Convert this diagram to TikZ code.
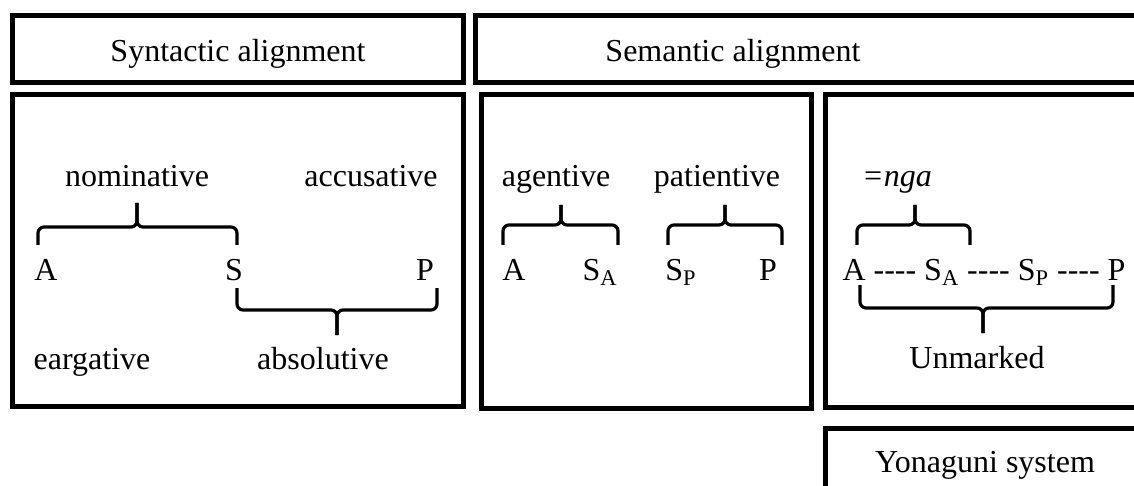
\documentclass[tikz,border=0pt]{standalone}
\usepackage{fontspec}
\setmainfont{Liberation Serif}
\usetikzlibrary{positioning}
\newcommand{\fourdash}{\mbox{-}\mbox{-}\mbox{-}\mbox{-}}
\tikzset{
	frame/.style={line width=2.5pt},
	brace/.style={line width=1.6pt, rounded corners=3pt},
	word/.style={inner sep=0pt, anchor=base, font=\fontsize{16}{19}\selectfont}
}

\begin{document}
\begin{tikzpicture}[x=0.5pt, y=-0.5pt]
	\useasboundingbox (0, 0) rectangle (1134, 486);
	\clip (0, 0) rectangle (1134, 486);

	% frames
	\draw[frame]	(12.5, 15.5) rectangle (463.5, 82.5)
			(12.5, 95) rectangle (463.5, 406.5)
			(475.5, 15.5) rectangle (1145, 82.5)
			(481.5, 95) rectangle (811.5, 408)
			(825.5, 95) rectangle (1145, 407.5)
			(825.5, 428.5) rectangle (1145, 500);

	% titles
	\node[word] (syntitle) at (238, 62) {Syntactic alignment};
	\node[word] (semtitle) at (733, 62) {Semantic alignment};
	\node[word] (yontitle) at (985, 472) {Yonaguni system};

	% syntactic
	\node[word] (nom) at (137, 187) {nominative};
	\node[word] (acc) at (371, 187) {accusative};
	\node[word] (synA) at (46, 280) {A};
	\node[word] (synS) at (234, 280) {S};
	\node[word] (synP) at (425, 280) {P};
	\node[word] (erg) at (92, 369) {eargative};
	\node[word] (abs) at (323, 369) {absolutive};

	% semantic
	\node[word] (agt) at (556, 187) {agentive};
	\node[word] (pat) at (717, 187) {patientive};
	\node[word] (semA) at (514, 280) {A};
	\node[word] (semSa) at (600, 280) {S\textsubscript{A}};
	\node[word] (semSp) at (681, 280) {S\textsubscript{P}};
	\node[word] (semP) at (768, 280) {P};

	% yonaguni
	\node[word] (nga) at (897, 187) {\textit{=nga}};
	\node[word] (row) at (984, 280) {A \fourdash{} S\textsubscript{A} \fourdash{} S\textsubscript{P} \fourdash{} P};
	\node[word] (unm) at (977, 368) {Unmarked};

	% braces
	\foreach \xa/\xt/\xb/\yb/\yh/\yt in {38/137/237/245/227/203, 237/337/437/288/310/335,
			503/561/618/245/225/205, 668/725/782/245/225/205,
			857/915/970/245/225/205, 860/983/1113/285/308/333}
	{
		\draw[brace] (\xa, \yb) |- (\xt, \yh) -- (\xt, \yt);
		\draw[brace] (\xb, \yb) |- (\xt, \yh) -- (\xt, \yt);
	}
\end{tikzpicture}
\end{document}
